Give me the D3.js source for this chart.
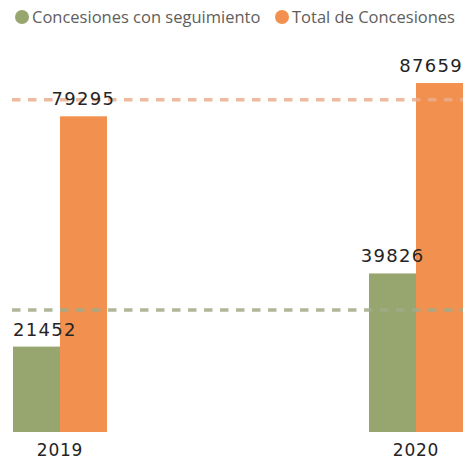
<!DOCTYPE html>
<html>
<head>
<meta charset="utf-8">
<script src="https://cdn.jsdelivr.net/npm/d3@7"></script>
<style>
  html, body { margin: 0; padding: 0; background: #fff; }
  svg { display: block; }
</style>
</head>
<body>
<svg id="chart" width="465" height="460"></svg>
<script>
const years = ["2019", "2020"];
const seriesNames = ["Concesiones con seguimiento", "Total de Concesiones"];
const seguimiento = [21452, 39826];
const total = [79295, 87659];
const seriesColors = ["#97A66F", "#F2914F"];
const lineColors = ["#A2AB8A", "#E9AE8B"];

const svg = d3.select("#chart");
const plotLeft = 13, plotRight = 463, baseY = 432, topY = 83;

const x = d3.scaleBand().domain(years).range([plotLeft, plotRight]).paddingInner(0.736).paddingOuter(0);
const x1 = d3.scaleBand().domain(seriesNames).range([0, x.bandwidth()]).padding(0);
const y = d3.scaleLinear().domain([0, d3.max(total)]).range([baseY, topY]);

const series = [seguimiento, total];

// bars
series.forEach((vals, si) => {
  svg.append("g").selectAll("rect").data(vals).join("rect")
    .attr("x", (d, i) => x(years[i]) + x1(seriesNames[si]))
    .attr("y", d => y(d))
    .attr("width", x1.bandwidth())
    .attr("height", d => y(0) - y(d))
    .attr("fill", seriesColors[si]);
});

// average lines
series.forEach((vals, si) => {
  const avg = d3.mean(vals);
  svg.append("line")
    .attr("x1", 12).attr("x2", plotRight)
    .attr("y1", y(avg)).attr("y2", y(avg))
    .attr("stroke", lineColors[si])
    .attr("stroke-width", 3.5)
    .attr("stroke-dasharray", "8.5,7.5")
    .attr("opacity", 0.85);
});

// value labels
series.forEach((vals, si) => {
  svg.append("g").selectAll("text").data(vals).join("text")
    .text(d => d)
    .attr("font-family", "DejaVu Sans")
    .attr("font-size", 18)
    .attr("letter-spacing", 1.3)
    .attr("fill", "#252423")
    .attr("y", d => y(d) - 11)
    .each(function(d, i) {
      const w = this.getComputedTextLength();
      const cx = x(years[i]) + x1(seriesNames[si]) + x1.bandwidth() / 2;
      let lx = cx - w / 2;
      lx = Math.max(plotLeft, Math.min(plotRight - w, lx));
      d3.select(this).attr("x", lx);
    });
});

// x axis
const xAxis = svg.append("g").attr("transform", `translate(0,${baseY})`)
  .call(d3.axisBottom(x).tickSize(0).tickPadding(0));
xAxis.select(".domain").remove();
xAxis.selectAll("text")
  .attr("font-family", "DejaVu Sans")
  .attr("font-size", 17)
  .attr("letter-spacing", 0.8)
  .attr("fill", "#252423")
  .attr("dy", 0)
  .attr("y", 24);

// legend
const legendX = [22, 282];
const lg = svg.append("g");
seriesNames.forEach((name, i) => {
  lg.append("circle").attr("cx", legendX[i]).attr("cy", 17).attr("r", 7).attr("fill", seriesColors[i]);
  lg.append("text").text(name)
    .attr("x", legendX[i] + 10).attr("y", 23)
    .attr("font-family", "Open Sans")
    .attr("font-size", 16.5)
    .attr("fill", "#605E5C");
});
</script>
</body>
</html>
